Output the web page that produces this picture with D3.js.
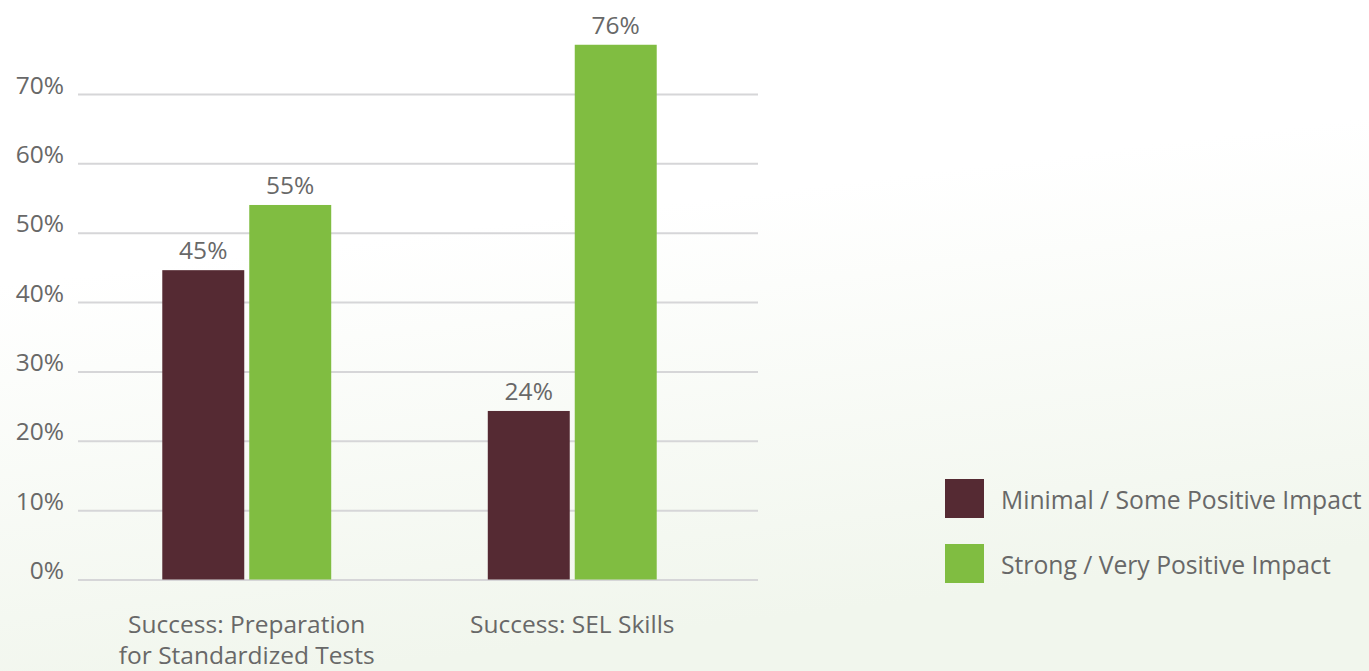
<!DOCTYPE html>
<html>
<head>
<meta charset="utf-8">
<script src="https://cdn.jsdelivr.net/npm/d3@7"></script>
<style>
body { margin: 0; background: #fff; }
text { font-family: "Open Sans", sans-serif; fill: #686868; }
</style>
</head>
<body>
<div id="chart"></div>
<script>
// categories and series
var categories = [["Success: Preparation", "for Standardized Tests"], ["Success: SEL Skills"]];
var seriesNames = ["Minimal / Some Positive Impact", "Strong / Very Positive Impact"];
var seriesColors = ["#552a33", "#80bd41"];
// bar heights as drawn, and the labels printed over them
var minimalValues = [44.6, 24.3];
var strongValues = [54.0, 77.1];
var minimalLabels = ["45%", "24%"];
var strongLabels = ["55%", "76%"];
var yTicks = [0, 10, 20, 30, 40, 50, 60, 70];

var width = 1369, height = 671;

var svg = d3.select("#chart").append("svg")
    .attr("width", width)
    .attr("height", height);

// faint green wash in the lower part of the background
var defs = svg.append("defs");
var grad = defs.append("linearGradient")
    .attr("id", "bg")
    .attr("x1", "0").attr("y1", "0")
    .attr("x2", "0.25").attr("y2", "1");
grad.append("stop").attr("offset", "0.4").attr("stop-color", "#ffffff");
grad.append("stop").attr("offset", "1").attr("stop-color", "#f1f6ed");
svg.append("rect")
    .attr("width", width).attr("height", height)
    .attr("fill", "url(#bg)");

var x0 = d3.scaleBand()
    .domain(d3.range(categories.length))
    .range([84, 735])
    .paddingInner(0.481)
    .paddingOuter(0.2405);

var x1 = d3.scaleBand()
    .domain([0, 1])
    .range([0, x0.bandwidth()])
    .paddingInner(0.0575);

var y = d3.scaleLinear()
    .domain([0, 70])
    .range([579.5, 94]);

// gridlines + y labels
var yAxis = svg.append("g")
    .attr("transform", "translate(78,0)")
    .call(d3.axisLeft(y)
        .tickValues(yTicks)
        .tickSize(-680)
        .tickPadding(14)
        .tickFormat(function(d) { return d + "%"; }));
yAxis.select(".domain").remove();
yAxis.selectAll(".tick line")
    .attr("stroke", "#d6d6d8")
    .attr("stroke-width", 2);
yAxis.selectAll(".tick text")
    .attr("dy", "-0.04em")
    .style("font-family", "'Open Sans', sans-serif")
    .style("font-size", "24.5px")
    .attr("fill", "#686868");

var rows = categories.map(function(c, i) {
    return [
        { cat: i, s: 0, v: minimalValues[i], label: minimalLabels[i] },
        { cat: i, s: 1, v: strongValues[i], label: strongLabels[i] }
    ];
});

var groups = svg.append("g").selectAll("g")
    .data(rows)
    .enter().append("g")
    .attr("transform", function(d, i) { return "translate(" + x0(i) + ",0)"; });

groups.selectAll("rect")
    .data(function(d) { return d; })
    .enter().append("rect")
    .attr("x", function(d) { return x1(d.s); })
    .attr("width", x1.bandwidth())
    .attr("y", function(d) { return y(d.v); })
    .attr("height", function(d) { return y(0) - y(d.v); })
    .attr("fill", function(d) { return seriesColors[d.s]; });

groups.selectAll("text.val")
    .data(function(d) { return d; })
    .enter().append("text")
    .attr("class", "val")
    .attr("x", function(d) { return x1(d.s) + x1.bandwidth() / 2; })
    .attr("y", function(d) { return y(d.v) - 11; })
    .attr("text-anchor", "middle")
    .style("font-size", "24.5px")
    .text(function(d) { return d.label; });

// category labels, wrapped over two lines where needed
var catText = svg.append("g").selectAll("text")
    .data(categories)
    .enter().append("text")
    .attr("x", function(d, i) { return x0(i) + x0.bandwidth() / 2; })
    .attr("y", y(0) + 53.5)
    .attr("text-anchor", "middle")
    .style("font-size", "24.5px");
catText.selectAll("tspan")
    .data(function(d) { return d; })
    .enter().append("tspan")
    .attr("x", function() { return this.parentNode.getAttribute("x"); })
    .attr("dy", function(d, i) { return i ? 30.5 : 0; })
    .text(function(d) { return d; });

// legend
var legend = svg.append("g")
    .attr("transform", "translate(945,479)");
var items = legend.selectAll("g")
    .data(seriesNames)
    .enter().append("g")
    .attr("transform", function(d, i) { return "translate(0," + i * 65 + ")"; });
items.append("rect")
    .attr("width", 39)
    .attr("height", 39)
    .attr("fill", function(d, i) { return seriesColors[i]; });
items.append("text")
    .attr("x", 56)
    .attr("y", 29.5)
    .style("font-size", "24.7px")
    .text(function(d) { return d; });
</script>
</body>
</html>
